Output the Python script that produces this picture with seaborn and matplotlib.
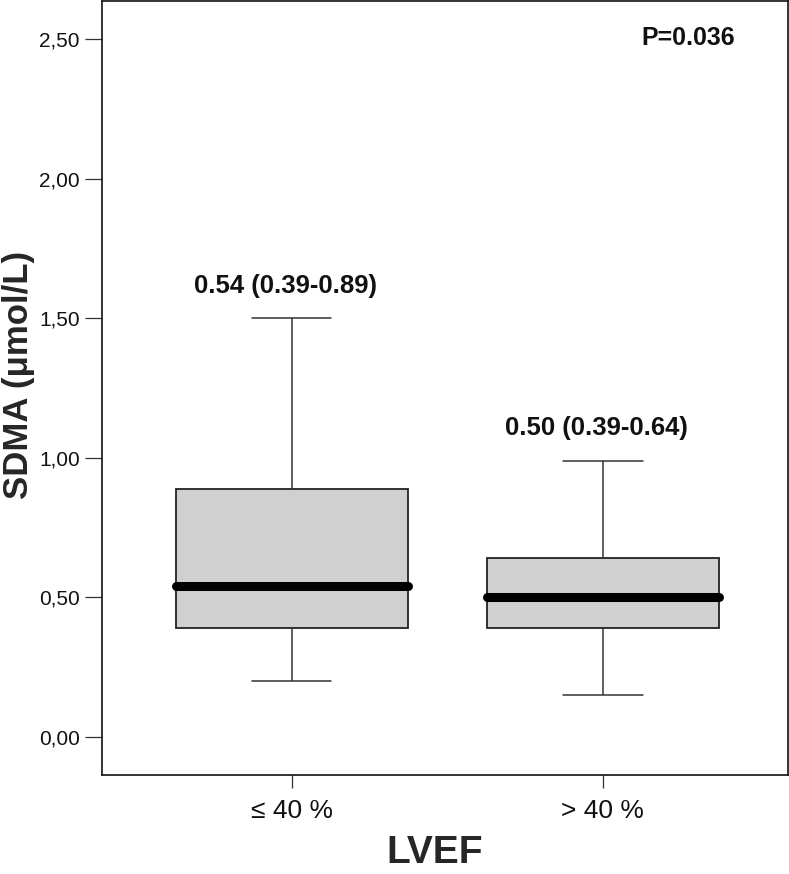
import matplotlib
matplotlib.use("Agg")
import matplotlib.pyplot as plt
import numpy as np
import pandas as pd
import seaborn as sns

# five-number summaries (whisker low, Q1, median, Q3, whisker high)
groups = ["≤ 40 %", "> 40 %"]
low_ef = [0.20, 0.39, 0.54, 0.89, 1.50]
high_ef = [0.15, 0.39, 0.50, 0.64, 0.99]
notes = ["0.54 (0.39-0.89)", "0.50 (0.39-0.64)"]
p_text = "P=0.036"
yticks = [0.0, 0.5, 1.0, 1.5, 2.0, 2.5]
ytick_labels = ["0,00", "0,50", "1,00", "1,50", "2,00", "2,50"]

sns.set_style("ticks")
plt.rcParams["font.family"] = ["Liberation Sans", "DejaVu Sans"]

df = pd.DataFrame({
    "LVEF": [groups[0]] * len(low_ef) + [groups[1]] * len(high_ef),
    "SDMA": low_ef + high_ef,
})

fig = plt.figure(figsize=(7.89, 8.74), dpi=100)
ax = fig.add_axes([102 / 789, 99 / 874, 686 / 789, 774 / 874])

sns.boxplot(
    data=df, x="LVEF", y="SDMA", order=groups, ax=ax,
    width=0.745, whis=np.inf, showfliers=False,
    color="#d0d0d0", linecolor="#222222", linewidth=1.1,
    boxprops=dict(facecolor="#d0d0d0", edgecolor="#222222", linewidth=1.3),
    whiskerprops=dict(color="#333333", linewidth=1.1),
    capprops=dict(color="#333333", linewidth=1.1),
    medianprops=dict(color="black", linewidth=6.5, solid_capstyle="round"),
    capwidths=0.255,
)

stats = [low_ef, high_ef]
for i, (s, txt) in enumerate(zip(stats, notes)):
    ax.text(i - 0.02, s[-1] + 0.09, txt, ha="center", va="baseline",
            fontsize=18.5, fontweight="bold", color="#111111")

ax.text(0.854, 0.952, p_text, transform=ax.transAxes, ha="center", va="center",
        fontsize=18, fontweight="bold", color="#111111")

ax.set_xlim(-0.61, 1.595)
ax.set_ylim(-0.136, 2.636)
ax.set_yticks(yticks)
ax.set_yticklabels(ytick_labels)

for side in ["left", "right", "top", "bottom"]:
    ax.spines[side].set_visible(True)
    ax.spines[side].set_linewidth(1.2)
    ax.spines[side].set_color("#111111")

ax.tick_params(axis="y", length=12, width=0.9, color="#333333", pad=4,
               labelsize=15, labelcolor="#111111")
ax.tick_params(axis="x", length=9, width=0.9, color="#333333", pad=8,
               labelsize=19, labelcolor="#111111")

ax.set_xlabel("LVEF", fontsize=28, fontweight="bold")
ax.xaxis.set_label_coords(0.485, -0.078)
ax.set_ylabel("SDMA (μmol/L)", fontsize=25, fontweight="bold")
ax.yaxis.label.set_verticalalignment("center")
ax.yaxis.set_label_coords(-0.122, 0.517)

fig.savefig("out.png", dpi=100)
